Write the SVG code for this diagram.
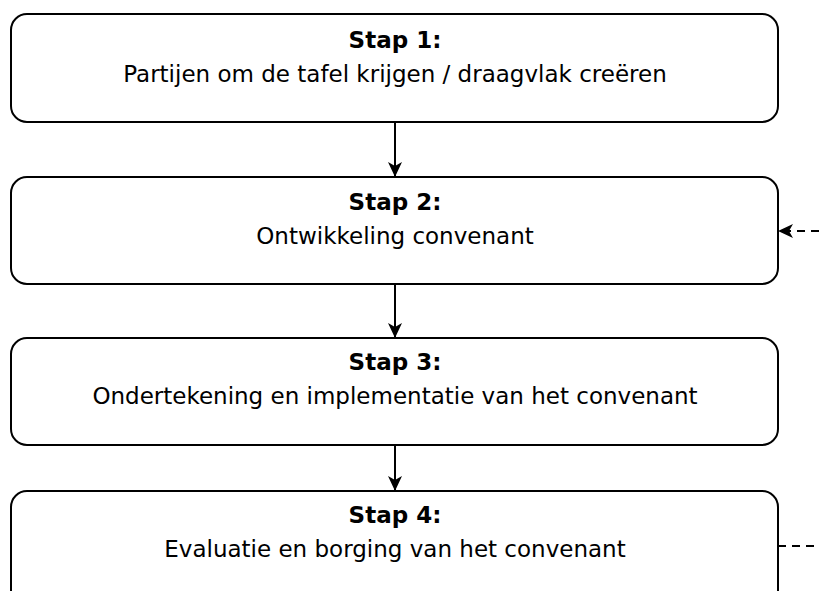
<svg xmlns="http://www.w3.org/2000/svg" width="819" height="591" viewBox="0 0 819 591">
<style>
.box{fill:#fff;stroke:#000;stroke-width:2}
.t{font-family:"DejaVu Sans",sans-serif;font-size:23px;fill:#000;text-anchor:middle}
.b{font-weight:bold}
.c{stroke:#000;stroke-width:2;fill:none}
.d{stroke:#000;stroke-width:2;fill:none;stroke-dasharray:8 6}
</style>
<defs>
<marker id="ah" viewBox="0 0 15 14" refX="14" refY="7" markerWidth="7.5" markerHeight="7" orient="auto" markerUnits="strokeWidth">
<path d="M0,0 L15,7 L0,14 L4,7 Z" fill="#000"/>
</marker>
</defs>
<rect width="819" height="591" fill="#fff"/>
<g id="connectors">
<line class="c" x1="395" y1="122" x2="395" y2="176" marker-end="url(#ah)"/>
<line class="c" x1="395" y1="284" x2="395" y2="337" marker-end="url(#ah)"/>
<line class="c" x1="395" y1="445" x2="395" y2="490" marker-end="url(#ah)"/>
<line class="d" x1="819" y1="231" x2="779" y2="231" marker-end="url(#ah)"/>
<line class="d" x1="778" y1="546" x2="819" y2="546"/>
</g>
<g id="step1">
<rect class="box" x="11" y="14" width="767" height="108" rx="16"/>
<text class="t b" x="395" y="48">Stap 1:</text>
<text class="t" x="395" y="82">Partijen om de tafel krijgen / draagvlak creëren</text>
</g>
<g id="step2">
<rect class="box" x="11" y="177" width="767" height="107" rx="16"/>
<text class="t b" x="395" y="210">Stap 2:</text>
<text class="t" x="395" y="244">Ontwikkeling convenant</text>
</g>
<g id="step3">
<rect class="box" x="11" y="338" width="767" height="107" rx="16"/>
<text class="t b" x="395" y="370">Stap 3:</text>
<text class="t" x="395" y="404">Ondertekening en implementatie van het convenant</text>
</g>
<g id="step4">
<rect class="box" x="11" y="491" width="767" height="120" rx="16"/>
<text class="t b" x="395" y="523">Stap 4:</text>
<text class="t" x="395" y="557">Evaluatie en borging van het convenant</text>
</g>
</svg>
